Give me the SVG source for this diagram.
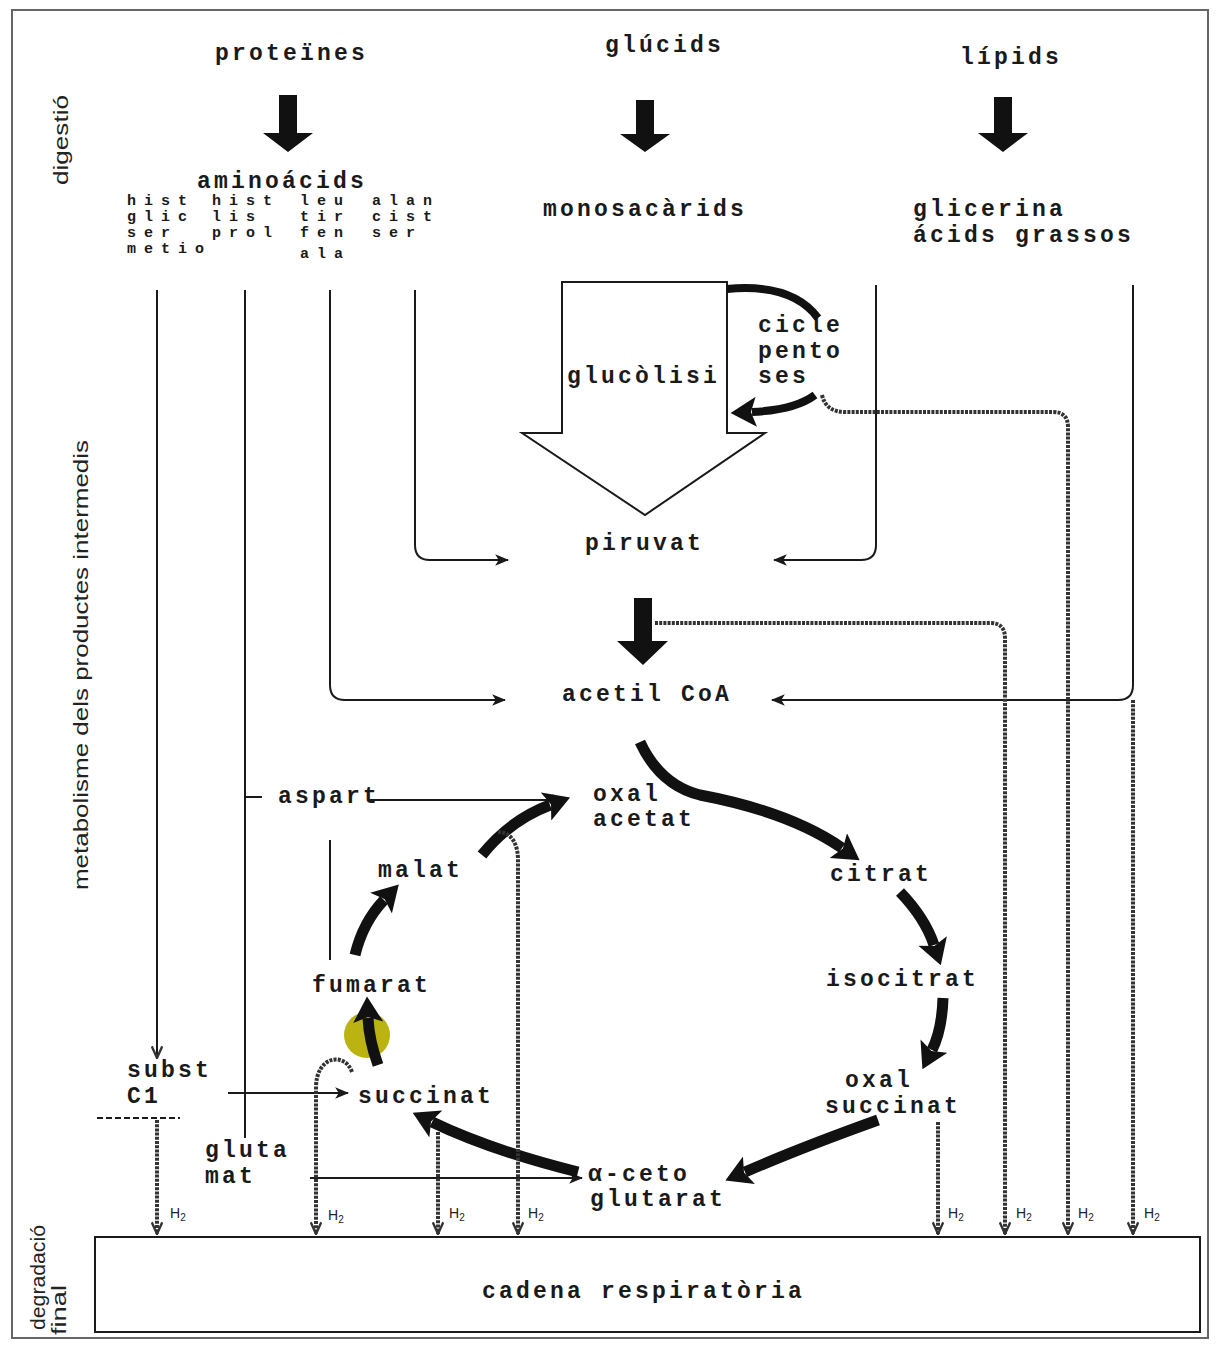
<svg xmlns="http://www.w3.org/2000/svg" width="1217" height="1346" viewBox="0 0 1217 1346">
<style>
.t{font-family:"Liberation Mono","DejaVu Sans Mono",monospace;font-weight:bold;font-size:23px;letter-spacing:3.2px;fill:#1a1a1a}
.a{font-size:15px;letter-spacing:8px}
.s{font-family:"Liberation Sans",Arial,sans-serif;font-size:20px;fill:#222}
.h{font-family:"Liberation Sans",Arial,sans-serif;font-size:14px;fill:#222}
.thin{fill:none;stroke:#1a1a1a;stroke-width:2}
.dot{fill:none;stroke:#333;stroke-width:4;stroke-dasharray:3 1.2}
.thick{fill:none;stroke:#111;stroke-width:11}
.blk{fill:#111}
</style>
<defs>
<marker id="ah" viewBox="0 0 12 10" refX="11" refY="5" markerWidth="14" markerHeight="12" markerUnits="userSpaceOnUse" orient="auto"><path d="M0,0 L12,5 L0,10 L3,5 z" fill="#1a1a1a"/></marker>
<marker id="hv" viewBox="0 0 12 10" refX="11" refY="5" markerWidth="14" markerHeight="12" markerUnits="userSpaceOnUse" orient="auto"><path d="M1,0.5 L11,5 L1,9.5" fill="none" stroke="#333" stroke-width="2"/></marker>
<marker id="big" viewBox="0 0 24 28" refX="4" refY="14" markerWidth="26" markerHeight="30" markerUnits="userSpaceOnUse" orient="auto"><path d="M0,0 L24,14 L0,28 L5,14 z" fill="#111"/></marker>
</defs>

<rect x="12" y="10" width="1196" height="1328" fill="none" stroke="#666" stroke-width="2"/>

<g id="side-labels">
<text class="s" transform="translate(68,185) rotate(-90)" textLength="90" lengthAdjust="spacingAndGlyphs">digestió</text>
<text class="s" transform="translate(88,890) rotate(-90)" textLength="450" lengthAdjust="spacingAndGlyphs">metabolisme dels productes intermedis</text>
<text class="s" transform="translate(45,1330) rotate(-90)" textLength="105" lengthAdjust="spacingAndGlyphs">degradació</text>
<text class="s" transform="translate(66,1335) rotate(-90)" textLength="50" lengthAdjust="spacingAndGlyphs">final</text>
</g>

<g id="proteines"><text class="t" x="215" y="60">proteïnes</text>
<path class="blk" d="M279,95 H297 V133 H313 L288,152 L263,133 H279 Z"/></g>
<g id="glucids"><text class="t" x="605" y="52">glúcids</text>
<path class="blk" d="M636,100 H654 V134 H670 L645,152 L620,134 H636 Z"/></g>
<g id="lipids"><text class="t" x="960" y="64">lípids</text>
<path class="blk" d="M994,97 H1012 V133 H1028 L1003,152 L978,133 H994 Z"/></g>

<g id="aminoacids">
<text class="t" x="197" y="188">aminoácids</text>
<text class="t a"><tspan x="127" y="205">hist</tspan><tspan x="212" y="205">hist</tspan><tspan x="300" y="205">leu</tspan><tspan x="372" y="205">alan</tspan><tspan x="127" y="221">glic</tspan><tspan x="212" y="221">lis</tspan><tspan x="300" y="221">tir</tspan><tspan x="372" y="221">cist</tspan><tspan x="127" y="237">ser</tspan><tspan x="212" y="237">prol</tspan><tspan x="300" y="237">fen</tspan><tspan x="372" y="237">ser</tspan><tspan x="127" y="253">metio</tspan><tspan x="300" y="258">ala</tspan></text>
</g>
<g id="monosacarids"><text class="t" x="543" y="216">monosacàrids</text></g>
<g id="glicerina"><text class="t" x="913" y="216">glicerina</text><text class="t" x="913" y="242">ácids grassos</text></g>

<g id="glucolisi">
<path d="M562,282 H727 V433 H765 L645,515 L522,433 H562 Z" fill="#fff" stroke="#1a1a1a" stroke-width="2"/>
<text class="t" x="567" y="383">glucòlisi</text>
</g>

<g id="cicle-pentoses">
<text class="t" x="758" y="332">cicle</text>
<text class="t" x="758" y="358">pento</text>
<text class="t" x="758" y="383">ses</text>
</g>

<g id="piruvat"><text class="t" x="585" y="550">piruvat</text>
<path class="blk" d="M634,598 H652 V641 H668 L643,665 L617,641 H634 Z"/></g>
<g id="acetilcoa"><text class="t" x="562" y="701">acetil CoA</text></g>
<g id="aspart"><text class="t" x="278" y="803">aspart</text></g>
<g id="oxalacetat"><text class="t" x="593" y="801">oxal</text><text class="t" x="593" y="826">acetat</text></g>
<g id="malat"><text class="t" x="378" y="877">malat</text></g>
<g id="citrat"><text class="t" x="830" y="881">citrat</text></g>
<g id="fumarat"><text class="t" x="312" y="992">fumarat</text></g>
<g id="isocitrat"><text class="t" x="826" y="986">isocitrat</text></g>
<g id="oxalsuccinat"><text class="t" x="845" y="1087">oxal</text><text class="t" x="825" y="1113">succinat</text></g>
<g id="substC1"><text class="t" x="127" y="1077">subst</text><text class="t" x="127" y="1103">C1</text></g>
<g id="succinat"><text class="t" x="358" y="1103">succinat</text></g>
<g id="glutamat"><text class="t" x="205" y="1157">gluta</text><text class="t" x="205" y="1183">mat</text></g>
<g id="acetoglutarat"><text class="t" x="588" y="1181">α-ceto</text><text class="t" x="590" y="1206">glutarat</text></g>
<g id="marker-dot"><circle cx="367" cy="1035" r="23" fill="#bbb312"/></g>

<g id="cadena">
<rect x="95" y="1237" width="1105" height="95" fill="none" stroke="#1a1a1a" stroke-width="2"/>
<text class="t" x="482" y="1298">cadena respiratòria</text>
</g>

<g id="connectors">
<path class="thin" d="M157,290 V1058" marker-end="url(#hv)"/>
<path class="thin" d="M245,290 V1138 M245,797 H262"/>
<path class="thin" d="M330,290 V685 Q330,700 345,700 H505" marker-end="url(#ah)"/>
<path class="thin" d="M415,290 V545 Q415,560 430,560 H508" marker-end="url(#ah)"/>
<path class="thin" d="M876,285 V545 Q876,560 861,560 H774" marker-end="url(#ah)"/>
<path class="thin" d="M1133,285 V685 Q1133,700 1118,700 H772" marker-end="url(#ah)"/>
<path class="thin" d="M368,800 H565" marker-end="url(#ah)"/>
<path class="thin" d="M330,840 V960"/>
<path class="thin" d="M228,1093 H348" marker-end="url(#ah)"/>
<path class="thin" d="M310,1178 H582" marker-end="url(#ah)"/>
<path class="thin" d="M97,1118 H180" stroke-dasharray="6 3"/>
<path d="M727,289 Q792,283 818,318" fill="none" stroke="#111" stroke-width="8"/>
<path d="M815,395 Q795,410 752,412" fill="none" stroke="#111" stroke-width="8" marker-end="url(#big)"/>
<path class="thick" d="M640,742 Q660,785 700,795 Q790,812 842,848" marker-end="url(#big)"/>
<path class="thick" d="M900,892 Q925,918 934,945" marker-end="url(#big)"/>
<path class="thick" d="M943,998 Q942,1030 932,1050" marker-end="url(#big)"/>
<path class="thick" d="M878,1120 Q800,1148 745,1172" marker-end="url(#big)"/>
<path class="thick" d="M578,1172 Q490,1150 432,1122" marker-end="url(#big)"/>
<path class="thick" d="M378,1065 Q369,1040 368,1018" marker-end="url(#big)"/>
<path class="thick" d="M355,955 Q363,922 384,900" marker-end="url(#big)"/>
<path class="thick" d="M482,855 Q510,820 550,805" marker-end="url(#big)"/>
<path class="dot" d="M157,1120 V1234" marker-end="url(#hv)"/>
<path class="dot" d="M352,1072 C345,1052 316,1055 316,1088 V1234" marker-end="url(#hv)"/>
<path class="dot" d="M438,1132 V1234" marker-end="url(#hv)"/>
<path class="dot" d="M498,832 C512,832 518,845 518,860 V1234" marker-end="url(#hv)"/>
<path class="dot" d="M938,1122 V1234" marker-end="url(#hv)"/>
<path class="dot" d="M655,623 H990 Q1005,623 1005,638 V1234" marker-end="url(#hv)"/>
<path class="dot" d="M822,395 Q826,412 845,412 H1053 Q1068,412 1068,427 V1234" marker-end="url(#hv)"/>
<path class="dot" d="M1133,700 V1234" marker-end="url(#hv)"/>
</g>

<g id="h2-labels">
<text class="h" x="170" y="1218">H<tspan font-size="10" dy="3">2</tspan></text>
<text class="h" x="328" y="1220">H<tspan font-size="10" dy="3">2</tspan></text>
<text class="h" x="449" y="1218">H<tspan font-size="10" dy="3">2</tspan></text>
<text class="h" x="528" y="1218">H<tspan font-size="10" dy="3">2</tspan></text>
<text class="h" x="948" y="1218">H<tspan font-size="10" dy="3">2</tspan></text>
<text class="h" x="1016" y="1218">H<tspan font-size="10" dy="3">2</tspan></text>
<text class="h" x="1078" y="1218">H<tspan font-size="10" dy="3">2</tspan></text>
<text class="h" x="1144" y="1218">H<tspan font-size="10" dy="3">2</tspan></text>
</g>
</svg>
